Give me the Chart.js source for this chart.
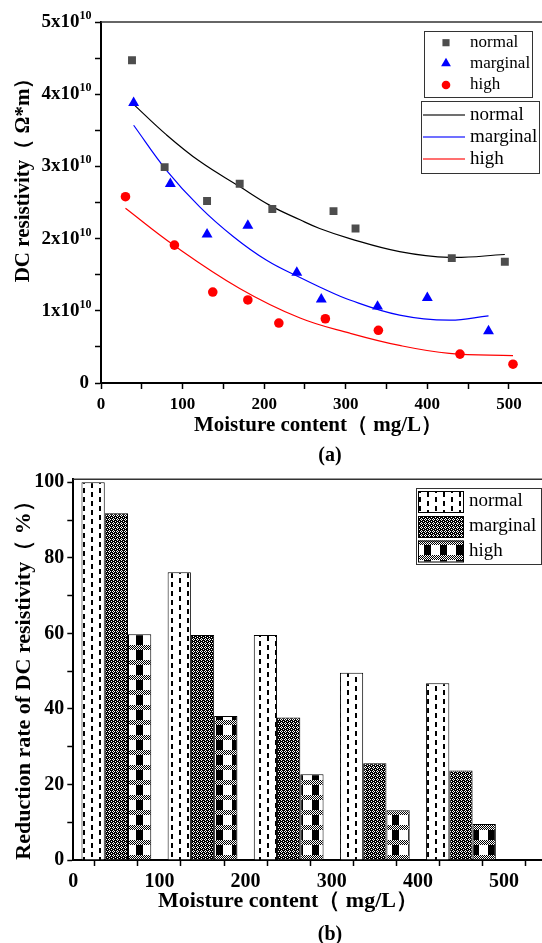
<!DOCTYPE html>
<html>
<head>
<meta charset="utf-8">
<script src="https://cdn.jsdelivr.net/npm/chart.js@4.4.1/dist/chart.umd.min.js"></script>
<style>
html, body { margin: 0; padding: 0; background: #fff; overflow: hidden; }
#wrap { position: relative; width: 542px; height: 943px; overflow: hidden; }
#top-box { position: absolute; left: 0; top: 0; width: 556px; height: 470px; }
#bottom-box { position: absolute; left: 0; top: 470px; width: 552px; height: 473px; }
</style>
</head>
<body>
<div id="wrap">
  <div id="top-box"><canvas id="resistivity-chart"></canvas></div>
  <div id="bottom-box"><canvas id="reduction-chart"></canvas></div>
</div>
<script>
// (a) measured DC resistivity (Ω*m) vs moisture content (mg/L)
const normalMoisture = [38, 78, 130, 170, 210, 285, 312, 430, 495];
const normalResistivity = [4.47e10, 2.99e10, 2.52e10, 2.76e10, 2.41e10, 2.38e10, 2.14e10, 1.73e10, 1.68e10];
const marginalMoisture = [40, 85, 130, 180, 240, 270, 339, 400, 475];
const marginalResistivity = [3.88e10, 2.76e10, 2.06e10, 2.18e10, 1.53e10, 1.16e10, 1.06e10, 1.18e10, 0.72e10];
const highMoisture = [30, 90, 137, 180, 218, 275, 340, 440, 505];
const highResistivity = [2.58e10, 1.91e10, 1.26e10, 1.15e10, 0.83e10, 0.89e10, 0.73e10, 0.40e10, 0.26e10];

// (a) fitted curves
const fitNormalX = [39, 80, 121, 170, 207, 244, 268, 305, 366, 427, 495];
const fitNormalY = [3.87e10, 3.44e10, 3.07e10, 2.72e10, 2.46e10, 2.26e10, 2.14e10, 2.00e10, 1.82e10, 1.74e10, 1.78e10];
const fitMarginalX = [40, 80, 121, 162, 203, 244, 268, 305, 366, 427, 475];
const fitMarginalY = [3.57e10, 2.95e10, 2.44e10, 2.03e10, 1.70e10, 1.46e10, 1.33e10, 1.15e10, 0.94e10, 0.87e10, 0.93e10];
const fitHighX = [30, 89, 170, 244, 305, 366, 427, 505];
const fitHighY = [2.42e10, 1.91e10, 1.31e10, 0.90e10, 0.69e10, 0.52e10, 0.41e10, 0.38e10];

// (b) reduction rate of DC resistivity (%)
const barMoisture = [50, 150, 250, 350, 450];
const rateNormal = [100, 76.2, 59.6, 49.6, 46.8];
const rateMarginal = [91.8, 59.6, 37.7, 25.6, 23.7];
const rateHigh = [59.8, 38.1, 22.7, 13.2, 9.5];

const seriesNames = ['normal', 'marginal', 'high'];

const serif = "'Liberation Serif', 'Times New Roman', serif";

function points(xs, ys) {
    return xs.map((x, i) => ({ x: x, y: ys[i] }));
}

// hatch tiles for the bars
function makeTile(w, h, draw) {
    const c = document.createElement('canvas');
    c.width = w;
    c.height = h;
    const g = c.getContext('2d');
    g.fillStyle = '#fff';
    g.fillRect(0, 0, w, h);
    g.fillStyle = '#000';
    draw(g);
    return c;
}
const patternCtx = document.createElement('canvas').getContext('2d');

const dashTile = makeTile(16, 18, g => {
    g.fillRect(3, 0, 2, 5);
    g.fillRect(3, 9, 2, 5);
    g.fillRect(11, 4, 2, 5);
    g.fillRect(11, 13, 2, 5);
});
const denseTile = makeTile(4, 4, g => {
    g.fillRect(0, 0, 4, 4);
    g.fillStyle = '#fff';
    g.fillRect(1, 0, 1, 1);
    g.fillRect(0, 1, 1, 1);
    g.fillRect(2, 1, 1, 1);
    g.fillRect(1, 2, 1, 1);
    g.fillRect(3, 3, 1, 1);
});
const checkTile = makeTile(16, 15, g => {
    g.fillRect(8, 0, 7, 10);
    for (let y = 10; y < 15; y++) {
        for (let x = 0; x < 16; x++) {
            if ((x + y) % 2 === 0) g.fillRect(x, y, 1, 1);
        }
    }
});
const normalFill = patternCtx.createPattern(dashTile, 'repeat');
const marginalFill = patternCtx.createPattern(denseTile, 'repeat');
const highFill = patternCtx.createPattern(checkTile, 'repeat');

// axis titles, panel label, exponents and the thin top frame line
const captions = {
    id: 'captions',
    afterDraw(chart, args, opts) {
        const ctx = chart.ctx;
        const area = chart.chartArea;
        ctx.save();
        ctx.strokeStyle = '#333';
        ctx.lineWidth = 1.5;
        ctx.beginPath();
        ctx.moveTo(area.left, area.top);
        ctx.lineTo(area.right + 10, area.top);
        ctx.stroke();
        ctx.fillStyle = '#000';
        ctx.textAlign = 'center';
        ctx.textBaseline = 'middle';
        opts.texts.forEach(t => {
            ctx.save();
            ctx.translate(t.x, t.y);
            if (t.rotate) ctx.rotate(t.rotate);
            ctx.font = 'bold ' + t.size + 'px ' + serif;
            ctx.fillText(t.text, 0, 0);
            ctx.restore();
        });
        if (opts.exponent) {
            // superscript "10" after each "Nx10" tick label of the y axis
            const yScale = chart.scales.y;
            ctx.font = 'bold 12px ' + serif;
            ctx.textAlign = 'left';
            yScale.ticks.forEach(tick => {
                if (typeof tick.label === 'string' && tick.label.indexOf('x10') > 0) {
                    ctx.fillText(opts.exponent, opts.exponentX, yScale.getPixelForValue(tick.value) - 6);
                }
            });
        }
        ctx.restore();
    }
};

// boxed legends like the original figure
const boxLegends = {
    id: 'boxLegends',
    afterDraw(chart, args, opts) {
        const ctx = chart.ctx;
        opts.boxes.forEach(box => {
            ctx.save();
            ctx.strokeStyle = '#333';
            ctx.lineWidth = 1;
            ctx.strokeRect(box.x + 0.5, box.y + 0.5, box.w, box.h);
            ctx.font = box.size + 'px ' + serif;
            ctx.textAlign = 'left';
            ctx.textBaseline = 'middle';
            box.items.forEach((dsIndex, i) => {
                const ds = chart.data.datasets[dsIndex];
                const cy = box.rows[i];
                if (box.kind === 'point') {
                    ctx.fillStyle = ds.backgroundColor;
                    Chart.helpers.drawPoint(ctx, {
                        pointStyle: ds.pointStyle,
                        radius: ds.pointRadius * 0.9,
                        rotation: 0,
                        borderWidth: 0
                    }, box.markX, cy);
                } else if (box.kind === 'line') {
                    ctx.strokeStyle = ds.borderColor;
                    ctx.globalAlpha = 0.75;
                    ctx.lineWidth = 1.5;
                    ctx.beginPath();
                    ctx.moveTo(box.markX, cy);
                    ctx.lineTo(box.markX + box.markW, cy);
                    ctx.stroke();
                    ctx.globalAlpha = 1;
                } else {
                    ctx.fillStyle = ds.backgroundColor;
                    ctx.fillRect(box.markX, cy - box.markH / 2, box.markW, box.markH);
                    ctx.strokeStyle = '#000';
                    ctx.strokeRect(box.markX + 0.5, cy - box.markH / 2 + 0.5, box.markW, box.markH);
                }
                ctx.fillStyle = '#000';
                ctx.fillText(ds.label, box.textX, cy);
            });
            ctx.restore();
        });
    }
};

function axisLine() {
    return { color: '#000', width: 2 };
}
function tickMarks() {
    return { drawOnChartArea: false, drawTicks: true, tickLength: 6, tickColor: '#000', tickWidth: 1.5 };
}
function boldFont(size) {
    return { family: serif, size: size, weight: 'bold' };
}

// (a) scatter with fitted curves
const resistivityChart = new Chart(document.getElementById('resistivity-chart'), {
    type: 'scatter',
    data: {
        datasets: [
            { label: seriesNames[0], data: points(normalMoisture, normalResistivity),
              pointStyle: 'rect', pointRadius: 5.6, backgroundColor: '#4d4d4d', borderWidth: 0 },
            { label: seriesNames[1], data: points(marginalMoisture, marginalResistivity),
              pointStyle: 'triangle', pointRadius: 6.3, backgroundColor: '#0000ff', borderWidth: 0 },
            { label: seriesNames[2], data: points(highMoisture, highResistivity),
              pointStyle: 'circle', pointRadius: 4.8, backgroundColor: '#ff0000', borderWidth: 0 },
            { label: seriesNames[0], data: points(fitNormalX, fitNormalY), showLine: true,
              pointRadius: 0, borderColor: '#000', borderWidth: 1.2, tension: 0.4 },
            { label: seriesNames[1], data: points(fitMarginalX, fitMarginalY), showLine: true,
              pointRadius: 0, borderColor: '#0000ff', borderWidth: 1.2, tension: 0.4 },
            { label: seriesNames[2], data: points(fitHighX, fitHighY), showLine: true,
              pointRadius: 0, borderColor: '#ff0000', borderWidth: 1.2, tension: 0.4 }
        ]
    },
    options: {
        responsive: true,
        maintainAspectRatio: false,
        animation: false,
        layout: { padding: { left: 0, top: 22, right: 6, bottom: 0 } },
        scales: {
            x: {
                type: 'linear', min: 0, max: 550,
                border: axisLine(),
                grid: tickMarks(),
                ticks: {
                    stepSize: 50, autoSkip: false, maxRotation: 0, padding: 5,
                    color: '#000', font: boldFont(17),
                    callback: v => (v % 100 === 0 ? String(v) : '')
                },
                afterFit: s => { s.height = 87; s.paddingLeft = 0; s.paddingRight = 0; }
            },
            y: {
                min: 0, max: 5e10,
                border: axisLine(),
                grid: tickMarks(),
                ticks: {
                    stepSize: 5e9, autoSkip: false, padding: 6,
                    color: '#000', font: boldFont(19),
                    // en space keeps room for the exponent drawn by the captions plugin
                    callback: v => {
                        const n = Math.round(v / 5e9);
                        if (n % 2) return '';
                        return n === 0 ? '0' : (n / 2) + 'x10\u2002';
                    }
                },
                afterFit: s => { s.width = 101; s.paddingTop = 0; s.paddingBottom = 0; }
            }
        },
        plugins: {
            legend: { display: false },
            tooltip: { enabled: false },
            captions: {
                exponent: '10',
                exponentX: 79.5,
                texts: [
                    { text: 'DC resistivity（ Ω*m）', x: 24, y: 175, size: 21, rotate: -Math.PI / 2 },
                    { text: 'Moisture content（ mg/L）', x: 318, y: 426, size: 21 },
                    { text: '(a)', x: 330, y: 456, size: 20 }
                ]
            },
            boxLegends: {
                boxes: [
                    { kind: 'point', x: 424, y: 31, w: 108, h: 66, items: [0, 1, 2],
                      rows: [42.7, 63.3, 85], markX: 446, textX: 470, size: 17 },
                    { kind: 'line', x: 421, y: 101, w: 118, h: 72, items: [3, 4, 5],
                      rows: [115, 137, 159], markX: 423, markW: 42, textX: 470, size: 19 }
                ]
            }
        }
    },
    plugins: [captions, boxLegends]
});

// (b) grouped bars; the ruler also counts the 50-step ticks, hence the doubled percentage
const reductionChart = new Chart(document.getElementById('reduction-chart'), {
    type: 'bar',
    data: {
        datasets: [
            { label: seriesNames[0], data: points(barMoisture, rateNormal),
              backgroundColor: normalFill, borderColor: '#000', borderWidth: 1 },
            { label: seriesNames[1], data: points(barMoisture, rateMarginal),
              backgroundColor: marginalFill, borderColor: '#000', borderWidth: 1 },
            { label: seriesNames[2], data: points(barMoisture, rateHigh),
              backgroundColor: highFill, borderColor: '#000', borderWidth: 1 }
        ]
    },
    options: {
        responsive: true,
        maintainAspectRatio: false,
        animation: false,
        categoryPercentage: 1.62,
        barPercentage: 1,
        layout: { padding: { left: 0, top: 9.3, right: 4.9, bottom: 0 } },
        scales: {
            x: {
                type: 'linear', min: 0, max: 550, offset: false,
                border: axisLine(),
                grid: tickMarks(),
                ticks: {
                    stepSize: 50, autoSkip: false, maxRotation: 0, padding: 4,
                    color: '#000', font: boldFont(20),
                    callback: v => (v % 100 === 0 ? String(v) : '')
                },
                afterFit: s => { s.height = 83; s.paddingLeft = 0; s.paddingRight = 0; }
            },
            y: {
                min: 0, max: 100.8,
                border: axisLine(),
                grid: tickMarks(),
                ticks: {
                    stepSize: 10, autoSkip: false, includeBounds: false, padding: 3,
                    color: '#000', font: boldFont(20),
                    callback: v => (Math.round(v) % 20 === 0 ? String(Math.round(v)) : '')
                },
                afterFit: s => { s.width = 73.3; s.paddingTop = 0; s.paddingBottom = 0; }
            }
        },
        plugins: {
            legend: { display: false },
            tooltip: { enabled: false },
            captions: {
                texts: [
                    { text: 'Reduction rate of DC resistivity（ %）', x: 24, y: 205, size: 22, rotate: -Math.PI / 2 },
                    { text: 'Moisture content（ mg/L）', x: 288, y: 431, size: 22 },
                    { text: '(b)', x: 330, y: 465, size: 20 }
                ]
            },
            boxLegends: {
                boxes: [
                    { kind: 'fill', x: 416, y: 18, w: 125, h: 76, items: [0, 1, 2],
                      rows: [31.5, 56.5, 81], markX: 418, markW: 45, markH: 21, textX: 469, size: 19 }
                ]
            }
        }
    },
    plugins: [captions, boxLegends]
});
</script>
</body>
</html>
